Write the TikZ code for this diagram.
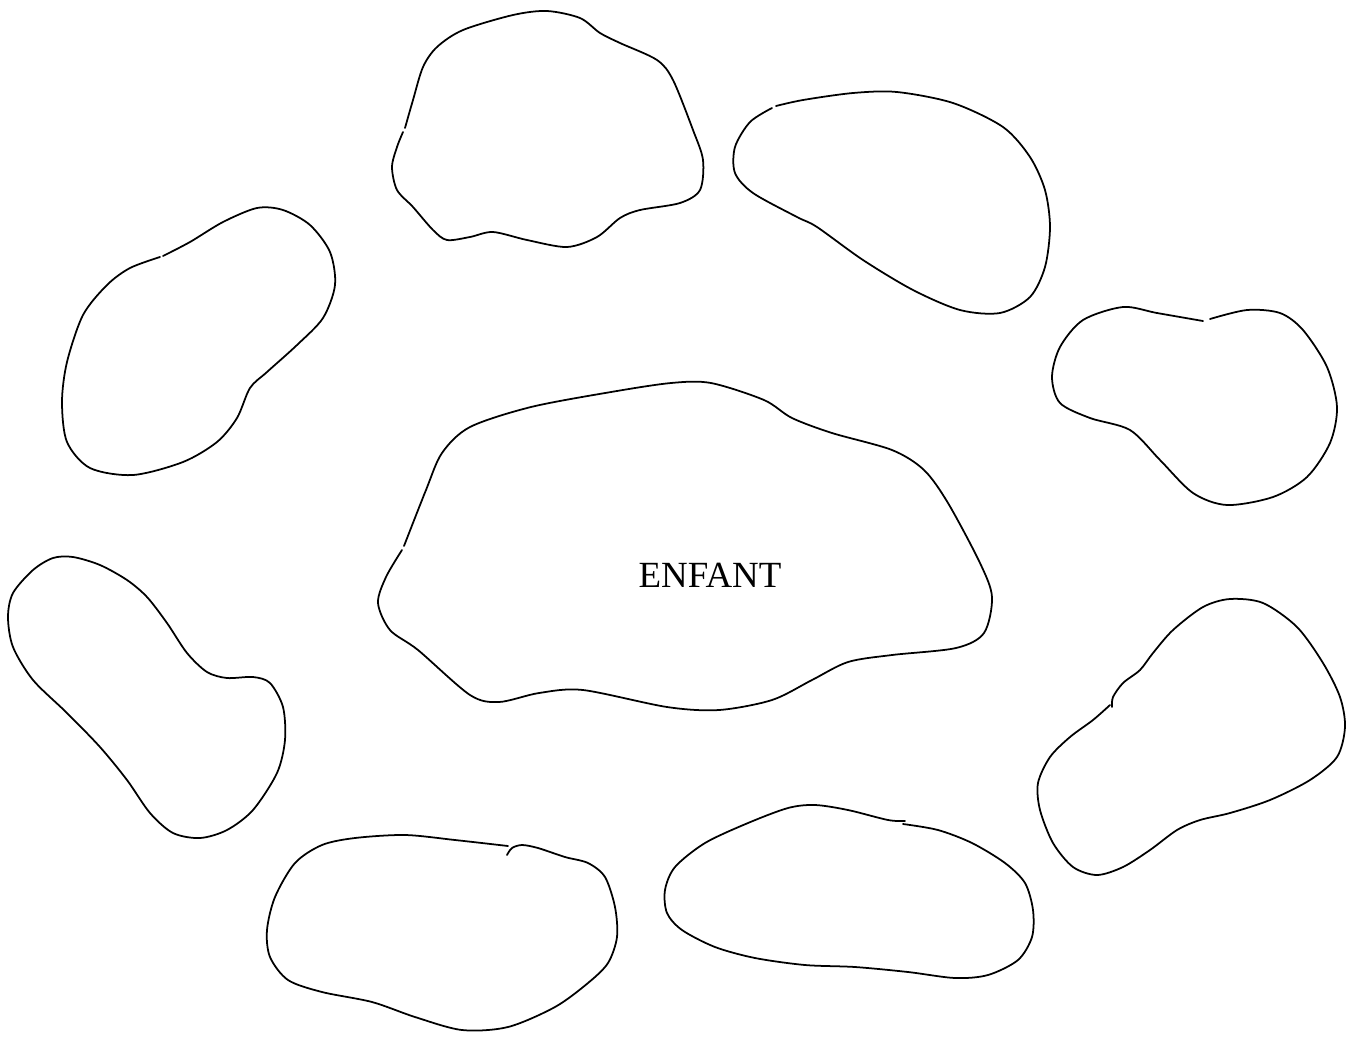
\documentclass[tikz,border=0pt]{standalone}
\usepackage{fontspec}
\setmainfont{Liberation Serif}
\usepackage{tikz}

\tikzset{
    blob/.style={line width=1pt, line join=round, line cap=round},
}

\begin{document}
\begin{tikzpicture}[x=0.02cm, y=-0.02cm]
    \useasboundingbox (0,0) rectangle (1353,1036);

    % top
    \draw[blob] plot[smooth] coordinates {(405,128) (413,100) (423,67) (437,47) (463,30) (513,15) (547,11) (580,18) (600,33) (620,43) (657,60) (673,80) (693,130) (703,160) (700,190) (680,203) (640,210) (620,218) (597,237) (567,247) (527,240) (493,232) (470,237) (447,240) (433,230) (413,207) (397,190) (392,167) (397,147) (403,132)};

    % top right
    \draw[blob] plot[smooth] coordinates {(776,106) (803,100) (853,93) (897,92) (953,103) (1003,127) (1030,157) (1045,190) (1050,227) (1045,267) (1030,297) (1000,313) (960,310) (913,290) (863,260) (817,227) (797,217) (753,193) (735,173) (735,147) (750,122) (772,108)};

    % right
    \draw[blob] plot[smooth] coordinates {(1210,319) (1247,310) (1280,313) (1303,330) (1327,367) (1337,407) (1330,443) (1307,477) (1273,497) (1227,505) (1193,493) (1160,460) (1130,430) (1090,418) (1060,403) (1052,377) (1060,347) (1083,320) (1123,307) (1157,313) (1203,321)};

    % left top
    \draw[blob] plot[smooth] coordinates {(163,256) (190,242) (223,222) (257,208) (283,210) (310,225) (330,252) (335,285) (323,318) (297,345) (267,372) (250,388) (237,418) (217,442) (183,462) (133,475) (90,468) (67,442) (62,402) (67,362) (83,315) (107,285) (130,268) (160,257)};

    % centre
    \draw[blob] plot[smooth] coordinates {(404,546) (426,490) (442,453) (470,427) (531,407) (611,392) (671,383) (711,383) (764,400) (792,418) (832,433) (892,450) (924,470) (948,503) (980,563) (992,597) (984,633) (956,648) (892,655) (848,662) (812,680) (772,700) (719,710) (667,707) (583,690) (539,693) (499,702) (470,695) (418,650) (390,630) (378,603) (386,577) (402,550)};
    \node[font=\fontsize{21}{25}\selectfont] (enfant) at (710,575) {ENFANT};

    % left bottom
    \draw[blob] plot[smooth cycle] coordinates {(73,557) (100,565) (127,580) (147,597) (167,623) (187,653) (207,672) (227,678) (253,677) (270,683) (283,707) (285,740) (277,773) (253,810) (227,830) (200,838) (173,833) (150,813) (127,780) (100,747) (67,713) (33,680) (13,647) (8,617) (13,593) (33,570) (53,558)};

    % bottom left
    \draw[blob] plot[smooth] coordinates {(507,855) (512,848) (522,845) (538,848) (565,857) (588,863) (605,877) (615,907) (617,937) (608,963) (588,983) (555,1007) (508,1027) (462,1030) (415,1017) (372,1002) (322,992) (288,980) (270,957) (267,930) (275,897) (295,863) (322,845) (355,838) (405,835) (455,840) (508,846)};

    % bottom centre
    \draw[blob] plot[smooth] coordinates {(903,824) (938,830) (972,843) (1005,863) (1025,883) (1033,910) (1032,937) (1018,960) (988,975) (955,978) (908,972) (855,967) (805,965) (755,958) (715,947) (682,930) (667,913) (665,890) (675,867) (705,843) (748,823) (788,808) (815,805) (848,810) (888,820) (905,821)};

    % bottom right
    \draw[blob] plot[smooth] coordinates {(1112,707) (1113,697) (1123,683) (1140,670) (1153,653) (1173,630) (1203,607) (1230,599) (1263,603) (1297,627) (1323,663) (1340,697) (1345,727) (1337,757) (1310,780) (1270,800) (1230,813) (1200,820) (1177,830) (1150,850) (1123,867) (1097,875) (1073,867) (1053,843) (1040,810) (1038,783) (1050,757) (1070,737) (1093,720) (1110,705)};
\end{tikzpicture}
\end{document}
